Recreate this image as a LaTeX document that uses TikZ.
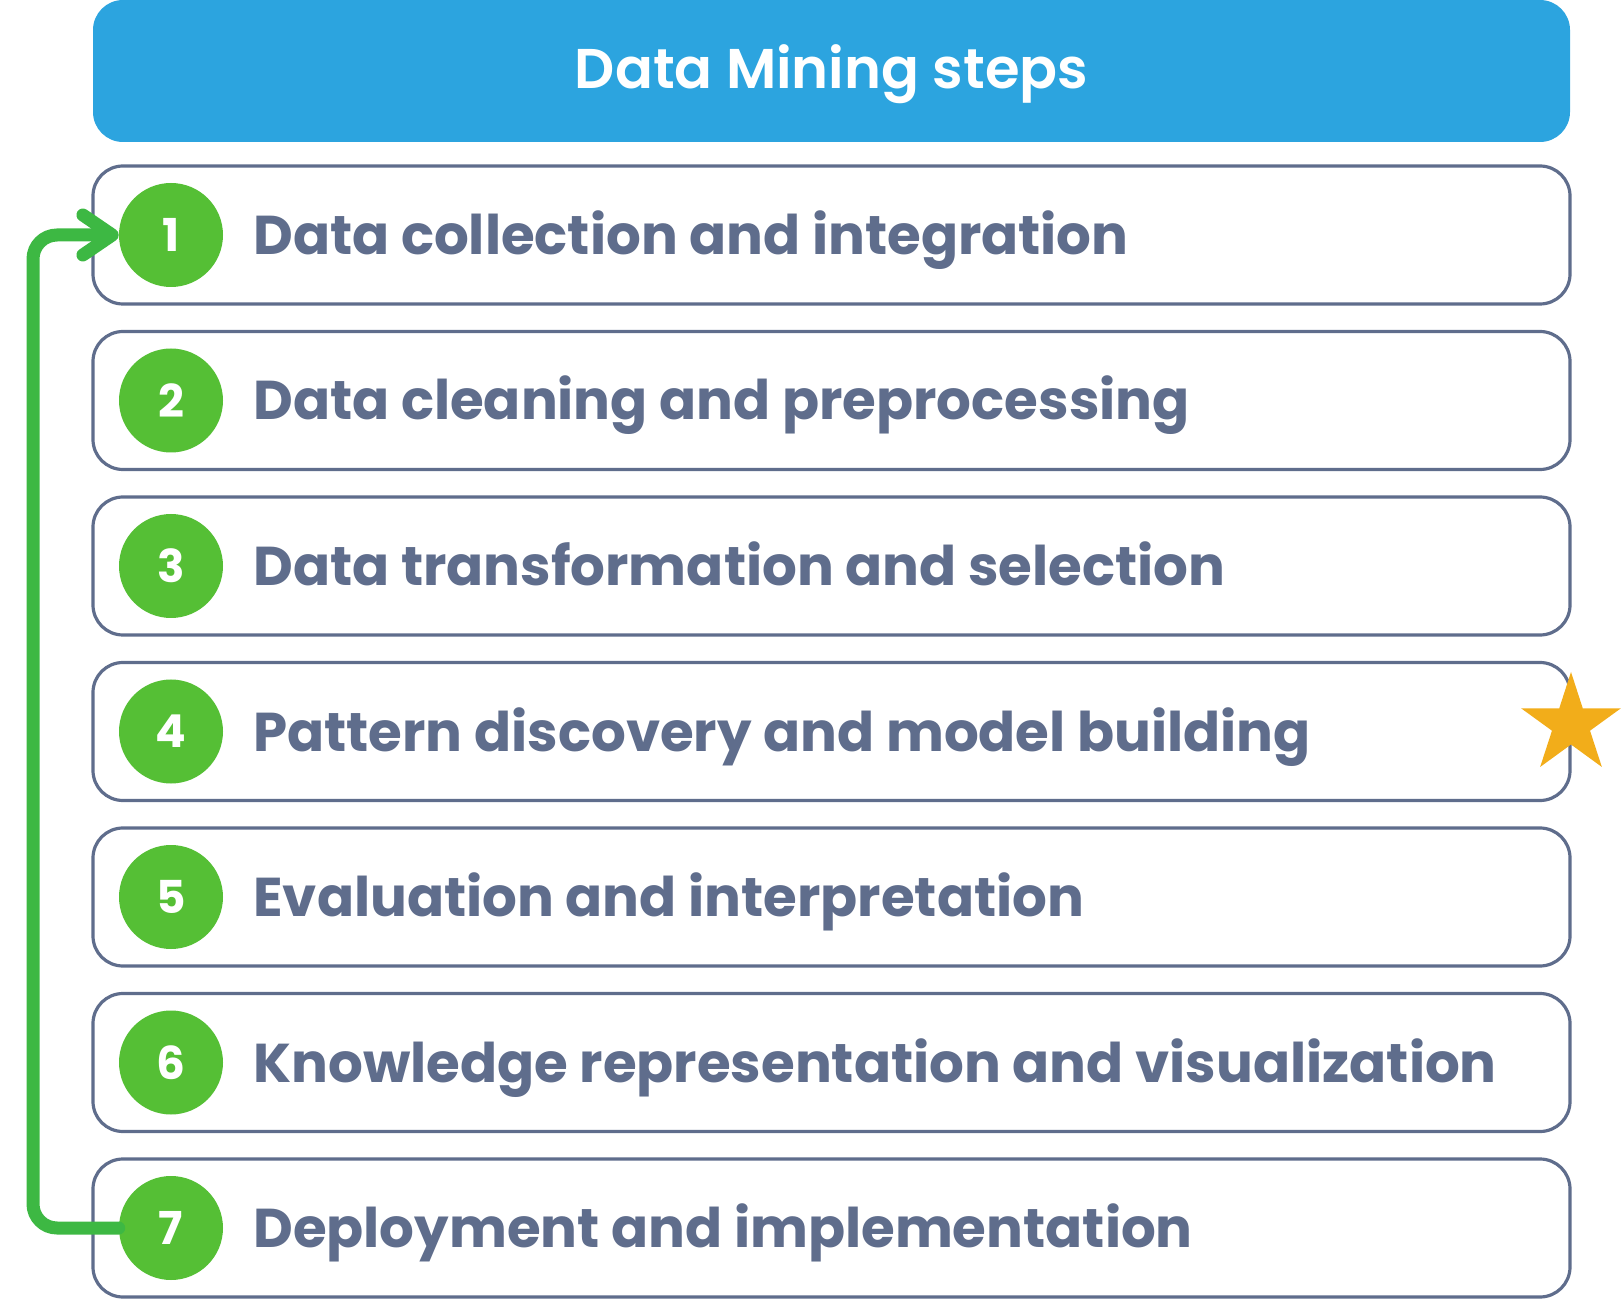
\documentclass[tikz,border=0pt]{standalone}
\usepackage{fontspec}
\setmainfont{Poppins}
\newfontfamily\titlefont{Poppins}[UprightFont=* SemiBold]
\usetikzlibrary{arrows.meta}
\definecolor{hdrblue}{HTML}{2CA4DF}
\definecolor{slate}{HTML}{5F6D8C}
\definecolor{circgreen}{HTML}{55BF35}
\definecolor{arrgreen}{HTML}{3DB843}
\definecolor{stargold}{HTML}{F2AD1A}
\tikzset{
  stepbox/.style={draw=slate, line width=2.4pt, rounded corners=22.5pt, fill=white,
    minimum width=1107.75pt, minimum height=103.5pt, inner sep=0pt},
  numcirc/.style={circle, fill=circgreen, minimum size=78pt, inner sep=0pt,
    text=white, font=\fontsize{34}{34}\selectfont\bfseries},
  steptext/.style={anchor=base west, text=slate, inner sep=0pt,
    font=\fontsize{41}{41}\selectfont\bfseries},
  loop/.style={draw=arrgreen, line width=9.75pt, line cap=round, rounded corners=18pt,
    -{Straight Barb[length=22pt, width=30pt, round]}}
}
\begin{document}
\begin{tikzpicture}[x=0.75pt,y=-0.75pt]
\useasboundingbox (0,0) rectangle (1622,1301);
\node[fill=hdrblue, rounded corners=22.5pt, minimum width=1107.75pt, minimum height=106.5pt, inner sep=0pt] (hdr) at (831.5,71) {};
\node[text=white, font=\fontsize{42}{42}\selectfont\titlefont, inner sep=0pt, anchor=base] (title) at (831.5,89) {Data Mining steps};
\foreach \i/\t in {1/Data collection and integration,
                   2/Data cleaning and preprocessing,
                   3/Data transformation and selection,
                   4/Pattern discovery and model building,
                   5/Evaluation and interpretation,
                   6/Knowledge representation and visualization,
                   7/Deployment and implementation}{
  \pgfmathsetmacro{\cy}{235+165.5*(\i-1)}
  \node[stepbox] (box\i) at (831.5,\cy) {};
  \node[numcirc] (c\i) at (171,\cy) {\i};
  \node[steptext] (t\i) at (253,\cy+19.5) {\t};
}
\coordinate (turn) at (33,1228);
\draw[loop] (c7.west) -- (turn) |- (c1.west);
\begin{scope}[shift={(1571,724.5)}]
\fill[stargold] (270:52.5) -- (306:20) -- (342:52.5) -- (18:20) -- (54:52.5) -- (90:20)
  -- (126:52.5) -- (162:20) -- (198:52.5) -- (234:20) -- cycle;
\end{scope}
\end{tikzpicture}
\end{document}
